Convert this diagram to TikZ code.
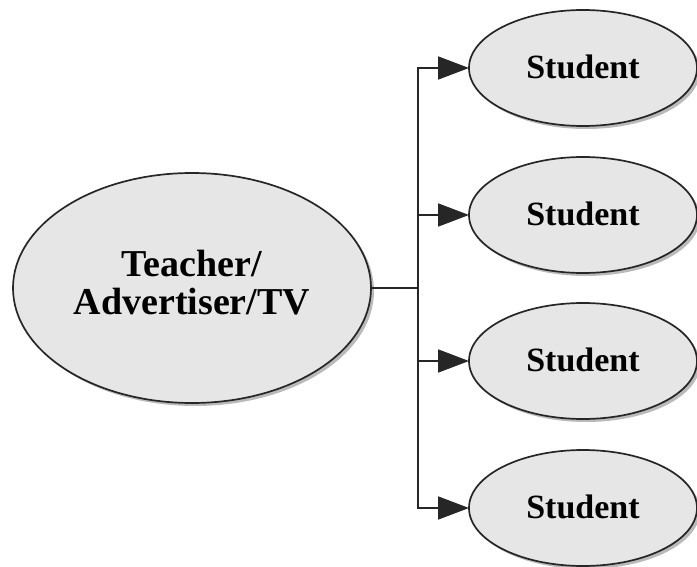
\documentclass[tikz,border=0pt]{standalone}
\usepackage{fontspec}
\setmainfont{Liberation Serif}
\usetikzlibrary{shapes.geometric,arrows.meta,shadows}
\definecolor{ellfill}{HTML}{E6E6E6}
\tikzset{
  bubble/.style={ellipse, draw=black!85, line width=1.7pt, fill=ellfill,
    inner sep=0pt, outer sep=0pt, align=center,
    drop shadow={shadow xshift=3pt, shadow yshift=-3pt, fill=black!45, opacity=0.6}},
  big/.style={bubble, minimum width=358pt, minimum height=230pt,
    font=\fontsize{38}{38}\selectfont\bfseries},
  small/.style={bubble, minimum width=228pt, minimum height=116pt,
    font=\fontsize{34}{38}\selectfont\bfseries},
  conn/.style={line width=1.8pt, draw=black!85},
  arr/.style={conn, -{Triangle[length=31pt, width=23pt]}}
}
\begin{document}
\begin{tikzpicture}[x=1pt, y=-1pt]
\useasboundingbox (0,0) rectangle (697,567);
\node[big] (T) at (192,288) {\raisebox{4pt}{\begin{tabular}{@{}c@{}}Teacher/\\Advertiser/TV\end{tabular}}};
\node[small] (S1) at (583,68) {\raisebox{3pt}{Student}};
\node[small] (S2) at (583,215) {\raisebox{3pt}{Student}};
\node[small] (S3) at (583,361) {\raisebox{3pt}{Student}};
\node[small] (S4) at (583,508) {\raisebox{3pt}{Student}};
\coordinate (J) at (418,288);
\draw[conn] (T.east) -- (J);
\draw[arr] (J) |- (S1.west);
\draw[arr] (J) |- (S2.west);
\draw[arr] (J) |- (S3.west);
\draw[arr] (J) |- (S4.west);
\end{tikzpicture}
\end{document}
